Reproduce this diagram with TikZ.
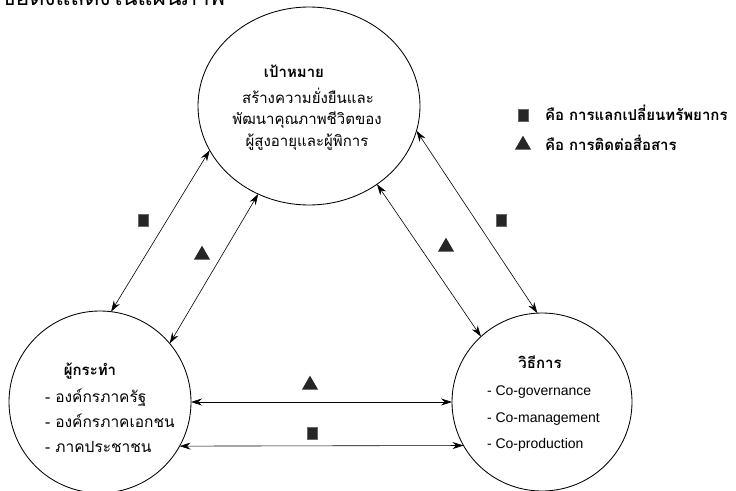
\documentclass[tikz,border=0pt]{standalone}
\usepackage{fontspec}
\setmainfont{Liberation Sans}
\newfontfamily\thai[Script=Thai]{Loma}
\usetikzlibrary{shapes.geometric,arrows.meta}
\begin{document}
\begin{tikzpicture}[x=1pt,y=-1pt,
  every node/.style={inner sep=0pt,outer sep=0pt},
  bubble/.style={draw,line width=0.85pt,ellipse},
  link/.style={line width=0.6pt,{Stealth[length=11pt,width=7pt]}-{Stealth[length=11pt,width=7pt]}},
  thair/.style={font=\thai\fontsize{15}{17}\selectfont,anchor=base},
  thaib/.style={font=\thai\bfseries\fontsize{15}{17}\selectfont,anchor=base},
  itemth/.style={font=\thai\fontsize{15.5}{17}\selectfont,anchor=base west},
  itemla/.style={font=\fontsize{14}{16}\selectfont,anchor=base west},
  legtext/.style={font=\thai\bfseries\fontsize{15}{17}\selectfont,anchor=base west},
  sqicon/.style={fill=black!85,minimum width=10pt,minimum height=12pt,draw=black!60,line width=0.3pt},
  trimark/.style={fill=black!85,isosceles triangle,shape border rotate=90,isosceles triangle apex angle=60,minimum height=14pt,minimum width=15pt,inner sep=0pt}
]
\useasboundingbox (0,0) rectangle (736,490);
% cut-off line at the top
\begin{scope}
\clip (0,0) rectangle (736,490);
\node[font=\thai\fontsize{23}{25}\selectfont,anchor=base west] (topline) at (0,5) {ข้อดังแสดงในแผนภาพ};
\end{scope}

% main bubbles
\node[bubble,minimum width=222pt,minimum height=198pt] (goal) at (309,106) {};
\node[bubble,minimum width=182pt,minimum height=182pt] (actor) at (100,402) {};
\node[bubble,minimum width=180pt,minimum height=178pt] (method) at (542,402) {};

% texts: goal
\node[thaib] (goalh) at (294,77) {เป้าหมาย};
\node[thair] (goal1) at (308,103) {สร้างความยั่งยืนและ};
\node[thair] (goal2) at (307,124) {พัฒนาคุณภาพชีวิตของ};
\node[thair] (goal3) at (307,146) {ผู้สูงอายุและผู้พิการ};

% texts: actor
\node[thaib] (actorh) at (90,375) {ผู้กระทำ};
\node[itemth] (actor1) at (45,402) {- องค์กรภาครัฐ};
\node[itemth] (actor2) at (45,427) {- องค์กรภาคเอกชน};
\node[itemth] (actor3) at (45,452) {- ภาคประชาชน};

% texts: method
\node[thaib] (methodh) at (540,368) {วิธีการ};
\node[itemla] (method1) at (487,395) {- Co-governance};
\node[itemla] (method2) at (487,422) {- Co-management};
\node[itemla] (method3) at (487,448) {- Co-production};

% connectors
\draw[link] (goal.204.8) -- (actor.83);
\draw[link] (goal.240.3) -- (actor.40);
\draw[link] (goal.311) -- (method.133.7);
\draw[link] (goal.347.6) -- (method.93);
\draw[link] (actor.0) -- (method.180);
\draw[link] (actor.-29.6) -- (method.209.6);

% connector marks
\node[sqicon] (m1) at (143,220) {};
\node[trimark] (m2) at (202,255) {};
\node[trimark] (m3) at (446,247) {};
\node[sqicon] (m4) at (501,220) {};
\node[trimark] (m5) at (310,385) {};
\node[sqicon] (m6) at (312,433) {};

% legend
\node[sqicon] (leg1) at (523,115) {};
\node[legtext] (leg1t) at (545,120) {คือ การแลกเปลี่ยนทรัพยากร};
\node[trimark] (leg2) at (523,145) {};
\node[legtext] (leg2t) at (545,150) {คือ การติดต่อสื่อสาร};
\end{tikzpicture}
\end{document}
